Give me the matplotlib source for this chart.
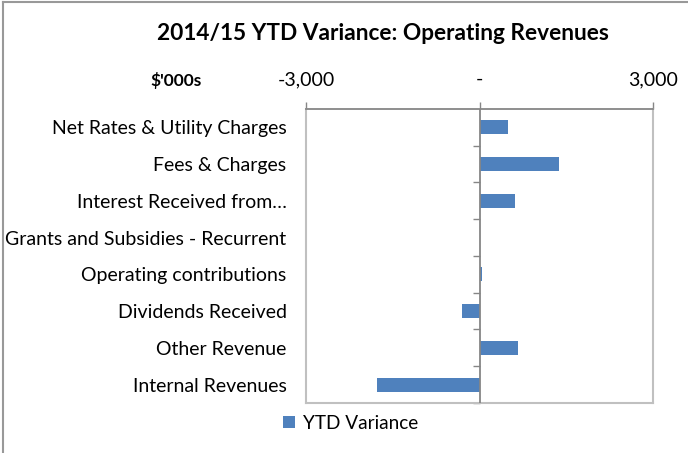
import matplotlib.pyplot as plt
from matplotlib.ticker import FixedLocator, FuncFormatter
from matplotlib.lines import Line2D

plt.rcParams['font.family'] = ['Lato', 'DejaVu Sans']

# ---------------- DADOS ----------------
categorias = [
    "Net Rates & Utility Charges",
    "Fees & Charges",
    "Interest Received from\u2026",
    "Grants and Subsidies - Recurrent",
    "Operating contributions",
    "Dividends Received",
    "Other Revenue",
    "Internal Revenues",
]
variancia = [500, 1375, 610, 0, 50, -300, 660, -1770]
ticks_x = [-3000, 0, 3000]

cor_barra = "#4f81bd"
cinza_escuro = "#868686"
cinza_claro = "#c0c0c0"

fig = plt.figure(figsize=(6.88, 4.53), dpi=100)
ax = fig.add_axes([0.4448, 0.1104, 0.5044, 0.649])

pos = list(range(len(categorias)))
ax.barh(pos, variancia, height=0.38, color=cor_barra, linewidth=0,
        label="YTD Variance", zorder=2)

ax.set_xlim(-3000, 3000)
ax.set_ylim(len(categorias) - 0.5, -0.5)

# eixo x no topo
ax.xaxis.tick_top()
ax.xaxis.set_major_locator(FixedLocator(ticks_x))

def milhar(x, p):
    if x == 0:
        return "-"
    return f"{x:,.0f}"

ax.xaxis.set_major_formatter(FuncFormatter(milhar))
ax.tick_params(axis="x", which="major", direction="out", length=5, width=1,
               color=cinza_escuro, pad=10, labelsize=14)

ax.set_yticks(pos)
ax.set_yticklabels(categorias)
ax.tick_params(axis="y", length=0, pad=14, labelsize=14)

for lado in ["left", "right", "bottom"]:
    ax.spines[lado].set_color(cinza_claro)
    ax.spines[lado].set_linewidth(1.5)
ax.spines["top"].set_color(cinza_escuro)
ax.spines["top"].set_linewidth(1.3)

# linha do zero com marcas de categoria
ax.axvline(0, color=cinza_escuro, linewidth=1.3, zorder=3)
eixo_zero = ax.secondary_yaxis(0.5)
for s in eixo_zero.spines.values():
    s.set_visible(False)
eixo_zero.set_yticks([p + 0.5 for p in pos])
eixo_zero.set_yticklabels([])
eixo_zero.tick_params(direction="in", length=5, width=1, color=cinza_escuro)

# titulo e unidade
fig.text(0.557, 0.927, "2014/15 YTD Variance: Operating Revenues",
         ha="center", va="center", fontsize=16.3, fontweight="bold")
fig.text(0.256, 0.823, "$'000s", ha="center", va="center",
         fontsize=12.5, fontweight="bold")

# legenda
fig.legend(loc="center left", bbox_to_anchor=(0.401, 0.066), frameon=False,
           fontsize=13.7, handlelength=0.6, handleheight=0.6, handletextpad=0.4,
           borderaxespad=0)

# borda da figura (esquerda e topo)
fig.add_artist(Line2D([0.005, 0.005], [0, 0.995], transform=fig.transFigure,
                      color="#999999", linewidth=1.5))
fig.add_artist(Line2D([0.005, 1], [0.995, 0.995], transform=fig.transFigure,
                      color="#999999", linewidth=1.5))

plt.savefig("out.png", dpi=100)
plt.close()
